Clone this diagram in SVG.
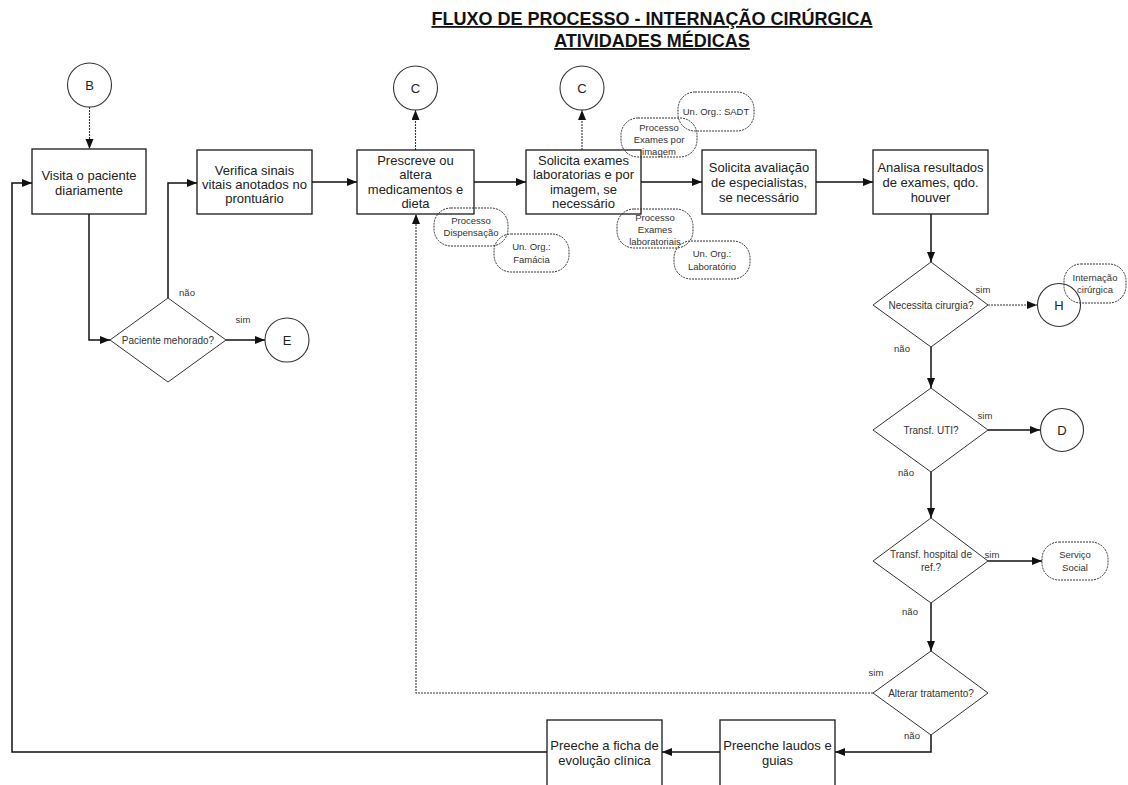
<svg xmlns="http://www.w3.org/2000/svg" width="1128" height="785" viewBox="0 0 1128 785">
  <defs>
    <marker id="arr" markerUnits="userSpaceOnUse" markerWidth="11" markerHeight="9" refX="10" refY="4" orient="auto">
      <path d="M0,0 L10,4 L0,8 z" fill="#111"/>
    </marker>
    <style>
      .box{fill:#fff;stroke:#1a1a1a;stroke-width:1.3}
      .dia{fill:#fff;stroke:#333;stroke-width:1}
      .circ{fill:#fff;stroke:#333;stroke-width:1.1}
      .bub{fill:none;stroke:#333;stroke-width:1;stroke-dasharray:2 1}
      .ln{fill:none;stroke:#111;stroke-width:1.5}
      .dl{fill:none;stroke:#333;stroke-width:1.1;stroke-dasharray:2 1}
      text{font-family:"Liberation Sans",Arial,sans-serif;fill:#222;text-anchor:middle}
      .t13{font-size:13px}
      .t10{font-size:10px;fill:#333}
      .t9{font-size:9.5px;fill:#333}
      .lab{font-size:9.5px;fill:#333}
      .ttl{font-size:18px;font-weight:bold;fill:#111;text-decoration:underline}
    </style>
  </defs>

  <!-- title -->
  <g id="title">
    <text class="ttl" x="652" y="25">FLUXO DE PROCESSO - INTERNAÇÃO CIRÚRGICA</text>
    <text class="ttl" x="652" y="47">ATIVIDADES MÉDICAS</text>
  </g>

  <!-- connectors -->
  <g id="connectors">
    <path class="dl" d="M89.5,107 V149" marker-end="url(#arr)"/>
    <path class="ln" d="M89,214 V340 H110" marker-end="url(#arr)"/>
    <path class="ln" d="M168,298 V183 H197" marker-end="url(#arr)"/>
    <path class="ln" d="M226,340 H265" marker-end="url(#arr)"/>
    <path class="ln" d="M312,182 H357" marker-end="url(#arr)"/>
    <path class="dl" d="M415.5,150 V110" marker-end="url(#arr)"/>
    <path class="ln" d="M474,182 H526" marker-end="url(#arr)"/>
    <path class="dl" d="M582,150 V110" marker-end="url(#arr)"/>
    <path class="ln" d="M641,182 H702" marker-end="url(#arr)"/>
    <path class="ln" d="M816,182 H873" marker-end="url(#arr)"/>
    <path class="ln" d="M931,214 V262" marker-end="url(#arr)"/>
    <path class="dl" d="M988,305 H1037" marker-end="url(#arr)"/>
    <path class="ln" d="M931,347 V388" marker-end="url(#arr)"/>
    <path class="ln" d="M988,430 H1040" marker-end="url(#arr)"/>
    <path class="ln" d="M931,472 V518" marker-end="url(#arr)"/>
    <path class="ln" d="M988,561 H1042" marker-end="url(#arr)"/>
    <path class="ln" d="M931,603 V651" marker-end="url(#arr)"/>
    <path class="dl" d="M873,693 H416 V214" marker-end="url(#arr)"/>
    <path class="ln" d="M931,735 V752 H835" marker-end="url(#arr)"/>
    <path class="ln" d="M720,752 H662" marker-end="url(#arr)"/>
    <path class="ln" d="M547,752 H12 V183 H32" marker-end="url(#arr)"/>
    <!-- branch labels -->
    <text class="lab" x="187" y="296">não</text>
    <text class="lab" x="243" y="323">sim</text>
    <text class="lab" x="983" y="293">sim</text>
    <text class="lab" x="902" y="352">não</text>
    <text class="lab" x="985" y="419">sim</text>
    <text class="lab" x="906" y="476">não</text>
    <text class="lab" x="992" y="558">sim</text>
    <text class="lab" x="910" y="615">não</text>
    <text class="lab" x="876" y="676">sim</text>
    <text class="lab" x="912" y="739">não</text>
  </g>

  <!-- connector circles -->
  <g id="circle-B"><circle class="circ" cx="89.5" cy="85" r="22"/><text class="t13" x="89.5" y="90">B</text></g>
  <g id="circle-C1"><circle class="circ" cx="415.5" cy="88" r="22"/><text class="t13" x="415.5" y="93">C</text></g>
  <g id="circle-C2"><circle class="circ" cx="582" cy="88" r="22"/><text class="t13" x="582" y="93">C</text></g>
  <g id="circle-E"><circle class="circ" cx="287" cy="340" r="22"/><text class="t13" x="287" y="345">E</text></g>
  <g id="circle-H"><circle class="circ" cx="1059" cy="305" r="21.5"/><text class="t13" x="1059" y="310">H</text></g>
  <g id="circle-D"><circle class="circ" cx="1062" cy="430" r="21.5"/><text class="t13" x="1062" y="435">D</text></g>

  <!-- process boxes -->
  <g id="visita">
    <rect class="box" x="32" y="149" width="114" height="65"/>
    <text class="t13" x="89" y="180">Visita o paciente</text>
    <text class="t13" x="89" y="195">diariamente</text>
  </g>
  <g id="verifica">
    <rect class="box" x="197" y="150" width="115" height="64"/>
    <text class="t13" x="254.5" y="175">Verifica sinais</text>
    <text class="t13" x="254.5" y="189">vitais anotados no</text>
    <text class="t13" x="254.5" y="203">prontuário</text>
  </g>
  <g id="prescreve">
    <rect class="box" x="357" y="150" width="117" height="64"/>
    <text class="t13" x="415.5" y="165">Prescreve  ou</text>
    <text class="t13" x="415.5" y="179">altera</text>
    <text class="t13" x="415.5" y="194">medicamentos e</text>
    <text class="t13" x="415.5" y="208">dieta</text>
  </g>
  <g id="solicita-exames">
    <rect class="box" x="526" y="150" width="115" height="64"/>
    <text class="t13" x="583.5" y="165">Solicita exames</text>
    <text class="t13" x="583.5" y="179">laboratorias e por</text>
    <text class="t13" x="583.5" y="194">imagem, se</text>
    <text class="t13" x="583.5" y="208">necessário</text>
  </g>
  <g id="solicita-avaliacao">
    <rect class="box" x="702" y="150" width="114" height="64"/>
    <text class="t13" x="759" y="172">Solicita avaliação</text>
    <text class="t13" x="759" y="187">de especialistas,</text>
    <text class="t13" x="759" y="202">se necessário</text>
  </g>
  <g id="analisa">
    <rect class="box" x="873" y="150" width="115" height="64"/>
    <text class="t13" x="930.5" y="172">Analisa resultados</text>
    <text class="t13" x="930.5" y="187">de exames, qdo.</text>
    <text class="t13" x="930.5" y="202">houver</text>
  </g>
  <g id="preenche-laudos">
    <rect class="box" x="720" y="720" width="115" height="70"/>
    <text class="t13" x="777.5" y="750">Preenche laudos e</text>
    <text class="t13" x="777.5" y="765">guias</text>
  </g>
  <g id="preeche-ficha">
    <rect class="box" x="547" y="720" width="115" height="70"/>
    <text class="t13" x="604.5" y="750">Preeche a ficha de</text>
    <text class="t13" x="604.5" y="765">evolução clínica</text>
  </g>

  <!-- decisions -->
  <g id="paciente-melhorado">
    <polygon class="dia" points="168,298 226,340 168,382 110,340"/>
    <text class="t10" x="168" y="344">Paciente mehorado?</text>
  </g>
  <g id="necessita-cirurgia">
    <polygon class="dia" points="931,262 988,305 931,347 873,305"/>
    <text class="t10" x="931" y="309">Necessita cirurgia?</text>
  </g>
  <g id="transf-uti">
    <polygon class="dia" points="931,388 988,430 931,472 873,430"/>
    <text class="t10" x="931" y="434">Transf. UTI?</text>
  </g>
  <g id="transf-hospital">
    <polygon class="dia" points="931,518 988,561 931,603 873,561"/>
    <text class="t10" x="931" y="558">Transf. hospital de</text>
    <text class="t10" x="931" y="571">ref.?</text>
  </g>
  <g id="alterar-tratamento">
    <polygon class="dia" points="931,651 988,693 931,735 873,693"/>
    <text class="t10" x="931" y="697">Alterar tratamento?</text>
  </g>

  <!-- annotations -->
  <g id="nota-dispensacao">
    <rect class="bub" x="434" y="208" width="74" height="38" rx="17"/>
    <text class="t9" x="471" y="224">Processo</text>
    <text class="t9" x="471" y="236">Dispensação</text>
  </g>
  <g id="nota-farmacia">
    <rect class="bub" x="494" y="234" width="75" height="38" rx="17"/>
    <text class="t9" x="531.5" y="250">Un. Org.:</text>
    <text class="t9" x="531.5" y="263">Famácia</text>
  </g>
  <g id="nota-exames-imagem">
    <rect class="bub" x="621" y="118" width="76" height="39" rx="17"/>
    <text class="t9" x="659" y="131">Processo</text>
    <text class="t9" x="659" y="143">Exames por</text>
    <text class="t9" x="659" y="155">imagem</text>
  </g>
  <g id="nota-sadt">
    <rect class="bub" x="678" y="92" width="76" height="39" rx="17"/>
    <text class="t9" x="716" y="115">Un. Org.: SADT</text>
  </g>
  <g id="nota-exames-lab">
    <rect class="bub" x="617" y="209" width="76" height="39" rx="17"/>
    <text class="t9" x="655" y="221">Processo</text>
    <text class="t9" x="655" y="233">Exames</text>
    <text class="t9" x="655" y="245">laboratoriais</text>
  </g>
  <g id="nota-laboratorio">
    <rect class="bub" x="674" y="241" width="76" height="38" rx="17"/>
    <text class="t9" x="712" y="257">Un. Org.:</text>
    <text class="t9" x="712" y="270">Laboratório</text>
  </g>
  <g id="nota-internacao">
    <rect class="bub" x="1064" y="264" width="62" height="39" rx="17"/>
    <text class="t9" x="1095" y="281">Internação</text>
    <text class="t9" x="1095" y="293">cirúrgica</text>
  </g>
  <g id="servico-social">
    <rect class="bub" x="1042" y="542" width="66" height="38" rx="17"/>
    <text class="t9" x="1075" y="558">Serviço</text>
    <text class="t9" x="1075" y="571">Social</text>
  </g>
</svg>
